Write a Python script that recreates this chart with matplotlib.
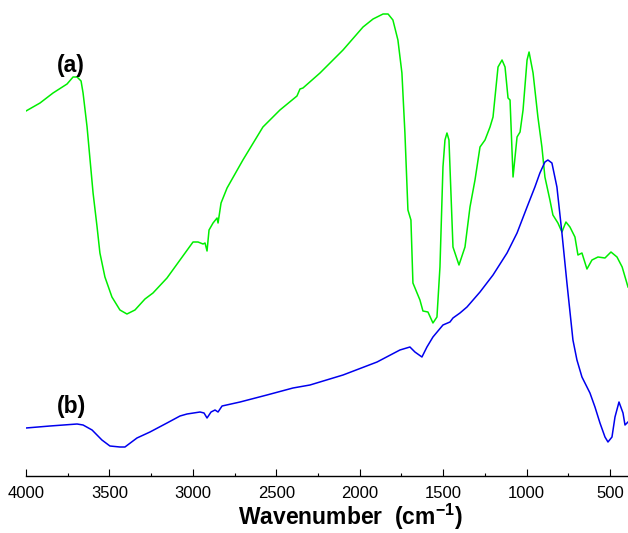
import numpy as np
import matplotlib.pyplot as plt
from matplotlib.ticker import MultipleLocator

plt.rcParams['font.family'] = ['Liberation Sans', 'DejaVu Sans']
plt.rcParams['mathtext.fontset'] = 'custom'
plt.rcParams['mathtext.rm'] = 'Liberation Sans'
plt.rcParams['mathtext.bf'] = 'Liberation Sans:bold'

# Spectrum (a), transmittance in arbitrary units
wn_a = [4000, 3916, 3838, 3754, 3718, 3694, 3670, 3658, 3634, 3616, 3598, 3574,
        3557, 3527, 3485, 3437, 3395, 3347, 3287, 3239, 3155, 3077, 2999, 2969,
        2939, 2927, 2915, 2903, 2879, 2855, 2849, 2831, 2795, 2700, 2580, 2478,
        2376, 2358, 2340, 2238, 2100, 1980, 1920, 1860, 1830, 1801, 1771, 1747,
        1729, 1711, 1693, 1681, 1639, 1621, 1591, 1561, 1537, 1519,
        1501, 1489, 1477, 1465, 1459, 1441, 1405, 1369, 1339, 1309, 1279, 1249,
        1219, 1201, 1171, 1147, 1129, 1111, 1099, 1081, 1057, 1039, 1021, 997,
        985, 961, 932, 908, 890, 860, 842, 812, 788, 764, 740, 710, 692, 668,
        638, 608, 572, 530, 494, 458, 427, 392]
t_a = [365, 373, 383, 392, 399, 399, 395, 383, 349, 316, 283, 249,
       223, 199, 179, 166, 162, 166, 177, 183, 198, 216, 234, 234,
       232, 233, 225, 246, 253, 258, 253, 273, 288, 316, 349, 366,
       380, 387, 388, 403, 426, 449, 457, 462, 462, 456, 436, 403,
       343, 266, 256, 193, 176, 165, 164, 153, 159, 209,
       309, 336, 343, 336, 309, 229, 211, 229, 269, 296, 329, 336,
       349, 359, 409, 416, 409, 378, 376, 299, 339, 344, 366, 416,
       424, 403, 359, 329, 299, 276, 261, 253, 244, 254, 249, 239, 221, 223,
       207, 216, 219, 218, 224, 219, 209, 189]

# Spectrum (b)
wn_b = [4000, 3856, 3694, 3658, 3604, 3545, 3497, 3437, 3407, 3335, 3257, 3155,
        3077, 3035, 2957, 2933, 2915, 2891, 2867, 2849, 2825, 2717, 2556, 2400,
        2298, 2100, 1896, 1759, 1699, 1669, 1627, 1597, 1561, 1501, 1459, 1441,
        1399, 1357, 1279, 1201, 1117, 1057, 997, 950, 920, 890, 872, 848, 818,
        788, 758, 722, 698, 668, 620, 590, 560, 530, 512, 488, 470, 446, 422,
        410, 392]
t_b = [48, 50, 52, 51, 46, 36, 30, 29, 29, 38, 44, 53,
       60, 62, 64, 63, 58, 64, 66, 64, 70, 74, 81, 88,
       91, 101, 114, 126, 129, 124, 119, 129, 139, 151, 154, 158,
       163, 169, 184, 201, 223, 243, 269, 289, 303, 314, 316, 313, 289,
       243, 193, 136, 116, 99, 83, 69, 53, 39, 34, 39, 59, 74, 63,
       51, 54]

fig = plt.figure(figsize=(6.28, 5.33), dpi=100)
ax = fig.add_axes([26/628, 1 - 476/533, 602/628, 476/533])

ax.plot(wn_a, t_a, color='#00ee00', lw=1.1)
ax.plot(wn_b, t_b, color='#0000ee', lw=1.1)

ax.set_xlim(4000, 392)
ax.set_ylim(0, 476)
for s in ['top', 'left', 'right']:
    ax.spines[s].set_visible(False)
ax.spines['bottom'].set_linewidth(1.0)
ax.set_yticks([])
ax.xaxis.set_major_locator(MultipleLocator(500))
ax.xaxis.set_minor_locator(MultipleLocator(250))
ax.tick_params(axis='x', which='major', direction='in', length=5, width=0.8,
               labelsize=12, pad=7)
ax.tick_params(axis='x', which='minor', direction='in', length=2.5, width=0.8)
ax.set_xlabel(r'Wavenumber  (cm$^{\mathbf{-1}}$)', fontsize=16.5,
              fontweight='bold', labelpad=1)
ax.xaxis.label.set_x((350 - 26) / 602)

fig.text(71/628, 1 - 66/533, '(a)', fontsize=16.5, fontweight='bold',
         ha='center', va='center')
fig.text(71/628, 1 - 407/533, '(b)', fontsize=16.5, fontweight='bold',
         ha='center', va='center')

fig.savefig('out.png', dpi=100)
